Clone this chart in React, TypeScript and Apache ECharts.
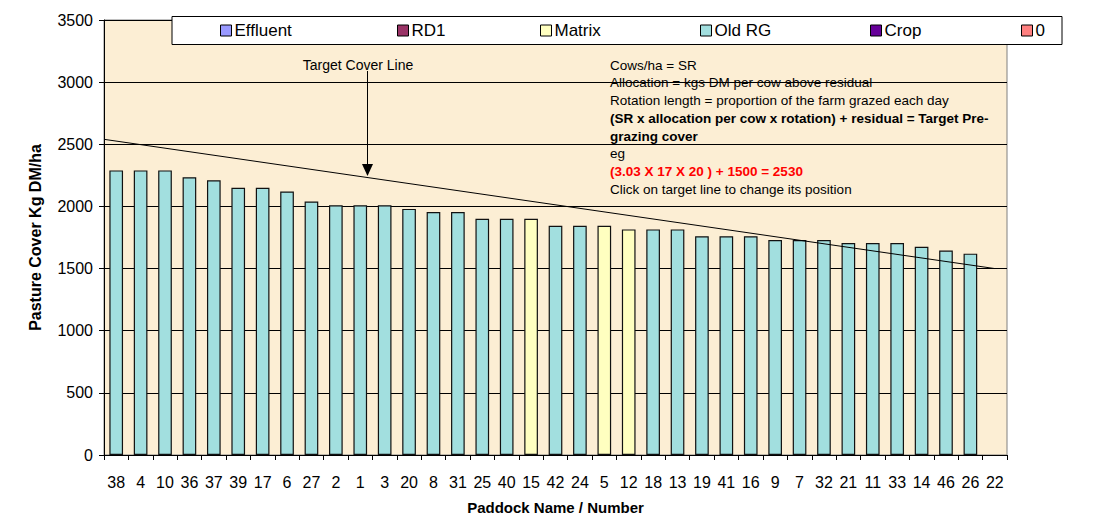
import React, { useEffect, useRef } from "react";
import * as echarts from "echarts";

const categories = ["38","4","10","36","37","39","17","6","27","2","1","3","20","8","31","25","40","15","42","24","5","12","18","13","19","41","16","9","7","32","21","11","33","14","46","26","22"];
const coverValues: (number | null)[] = [2290,2290,2290,2235,2210,2150,2150,2120,2040,2010,2010,2010,1980,1955,1955,1900,1900,1900,1845,1845,1845,1815,1815,1815,1760,1760,1760,1730,1730,1730,1705,1705,1705,1675,1645,1620,null];
const paddockTypes = ["Old RG","Old RG","Old RG","Old RG","Old RG","Old RG","Old RG","Old RG","Old RG","Old RG","Old RG","Old RG","Old RG","Old RG","Old RG","Old RG","Old RG","Matrix","Old RG","Old RG","Matrix","Matrix","Old RG","Old RG","Old RG","Old RG","Old RG","Old RG","Old RG","Old RG","Old RG","Old RG","Old RG","Old RG","Old RG","Old RG","Old RG"];
const seriesNames = ["Effluent","RD1","Matrix","Old RG","Crop","0"];
const seriesColors = ["#9999FF","#993366","#FFFFC0","#A2DFDF","#660099","#FF8080"];
const targetLine: [number, number][] = [[-0.5, 2540], [36, 1500]];
const yTicks = { min: 0, max: 3500, interval: 500 };
const legendLefts = [220, 397, 540, 700, 870, 1021];

const noteLines = [
  { t: "Cows/ha = SR", bold: false, color: "#000" },
  { t: "Allocation = kgs DM per cow above residual", bold: false, color: "#000" },
  { t: "Rotation length = proportion of the farm grazed each day", bold: false, color: "#000" },
  { t: "(SR x allocation per cow x rotation) + residual = Target Pre-", bold: true, color: "#000" },
  { t: "grazing cover", bold: true, color: "#000" },
  { t: "eg", bold: false, color: "#000" },
  { t: "(3.03 X 17 X 20 ) + 1500 = 2530", bold: true, color: "#FF0000" },
  { t: "Click on target line to change its position", bold: false, color: "#000" },
];

const FONT = "Arial, 'Liberation Sans', sans-serif";

export default function App() {
  const ref = useRef<HTMLDivElement>(null);
  useEffect(() => {
    document.body.style.margin = "0";
    if (!ref.current) return;
    const chart = echarts.init(ref.current, null, { renderer: "svg" });

    const barSeries = seriesNames.map((name, si) => ({
      name,
      type: "bar",
      stack: "total",
      barWidth: "56%",
      xAxisIndex: 0,
      yAxisIndex: 0,
      itemStyle: { color: seriesColors[si], borderColor: "#111", borderWidth: 1.2 },
      data: coverValues.map((v, i) => (paddockTypes[i] === name && v != null ? v : "-")),
      z: 3,
    }));

    const graphics: any[] = [
      {
        type: "rect",
        shape: { x: 172, y: 16.5, width: 890, height: 28 },
        style: { fill: "#fff", stroke: "#000", lineWidth: 1 },
        z: 10,
      },
      {
        type: "text",
        style: { text: "Target Cover Line", x: 358, y: 65, fontSize: 14, fontFamily: FONT, fill: "#000", align: "center", verticalAlign: "middle" },
        z: 11,
      },
      {
        type: "line",
        shape: { x1: 367.5, y1: 71, x2: 367.5, y2: 166 },
        style: { stroke: "#000", lineWidth: 1 },
        z: 11,
      },
      {
        type: "polygon",
        shape: { points: [[362, 164], [373, 164], [367.5, 176]] },
        style: { fill: "#000" },
        z: 11,
      },
      ...noteLines.map((l, i) => ({
        type: "text",
        style: {
          text: l.t,
          x: 610,
          y: 65 + i * 17.75,
          fontSize: 13.5,
          fontFamily: FONT,
          fontWeight: l.bold ? "bold" : "normal",
          fill: l.color,
          align: "left",
          verticalAlign: "middle",
        },
        z: 11,
      })),
    ];

    chart.setOption({
      animation: false,
      backgroundColor: "#ffffff",
      grid: {
        left: 104,
        right: 95,
        top: 20,
        bottom: 63,
        containLabel: false,
        outerBoundsMode: "none",
        show: true,
        backgroundColor: "#FCEED4",
        borderColor: "#808080",
        borderWidth: 1,
      },
      legend: seriesNames.map((name, i) => ({
        data: [name],
        left: legendLefts[i],
        top: 22,
        padding: 0,
        itemWidth: 11,
        itemHeight: 11,
        itemGap: 0,
        z: 20,
        selectedMode: false,
        icon: "rect",
        itemStyle: { borderColor: "#000", borderWidth: 1 },
        textStyle: { fontSize: 17, fontFamily: FONT, color: "#000", padding: [0, 0, 0, -2] },
      })),
      xAxis: [
        {
          type: "category",
          data: categories,
          boundaryGap: true,
          name: "Paddock Name / Number",
          nameLocation: "middle",
          nameGap: 45,
          nameTextStyle: { fontSize: 15, fontWeight: "bold", fontFamily: FONT, color: "#000" },
          axisLine: { onZero: false, lineStyle: { color: "#000", width: 1 } },
          axisTick: { show: true, interval: 0, length: 5, inside: false, lineStyle: { color: "#000" } },
          axisLabel: { interval: 0, margin: 19, fontSize: 16, fontFamily: FONT, color: "#000" },
          splitLine: { show: false },
        },
        {
          type: "value",
          min: -0.5,
          max: 36.5,
          show: false,
          position: "top",
          axisLine: { onZero: false },
        },
      ],
      yAxis: {
        type: "value",
        min: yTicks.min,
        max: yTicks.max,
        interval: yTicks.interval,
        name: "Pasture Cover Kg DM/ha",
        nameLocation: "middle",
        nameRotate: 90,
        nameGap: 61,
        nameTextStyle: { fontSize: 16, fontWeight: "bold", fontFamily: FONT, color: "#000" },
        axisLine: { show: true, onZero: false, lineStyle: { color: "#000", width: 1 } },
        axisTick: { show: true, length: 5, lineStyle: { color: "#000" } },
        axisLabel: { margin: 11, fontSize: 16, fontFamily: FONT, color: "#000", formatter: (v: number) => String(v) },
        splitLine: { show: true, lineStyle: { color: "#000", width: 1 } },
      },
      series: [
        ...barSeries,
        {
          name: "Target",
          type: "line",
          xAxisIndex: 1,
          yAxisIndex: 0,
          data: targetLine,
          symbol: "none",
          lineStyle: { color: "#000", width: 1 },
          z: 5,
          silent: true,
        },
      ],
      graphic: graphics,
    });

    return () => chart.dispose();
  }, []);

  return <div ref={ref} style={{ width: 1102, height: 518 }} />;
}
